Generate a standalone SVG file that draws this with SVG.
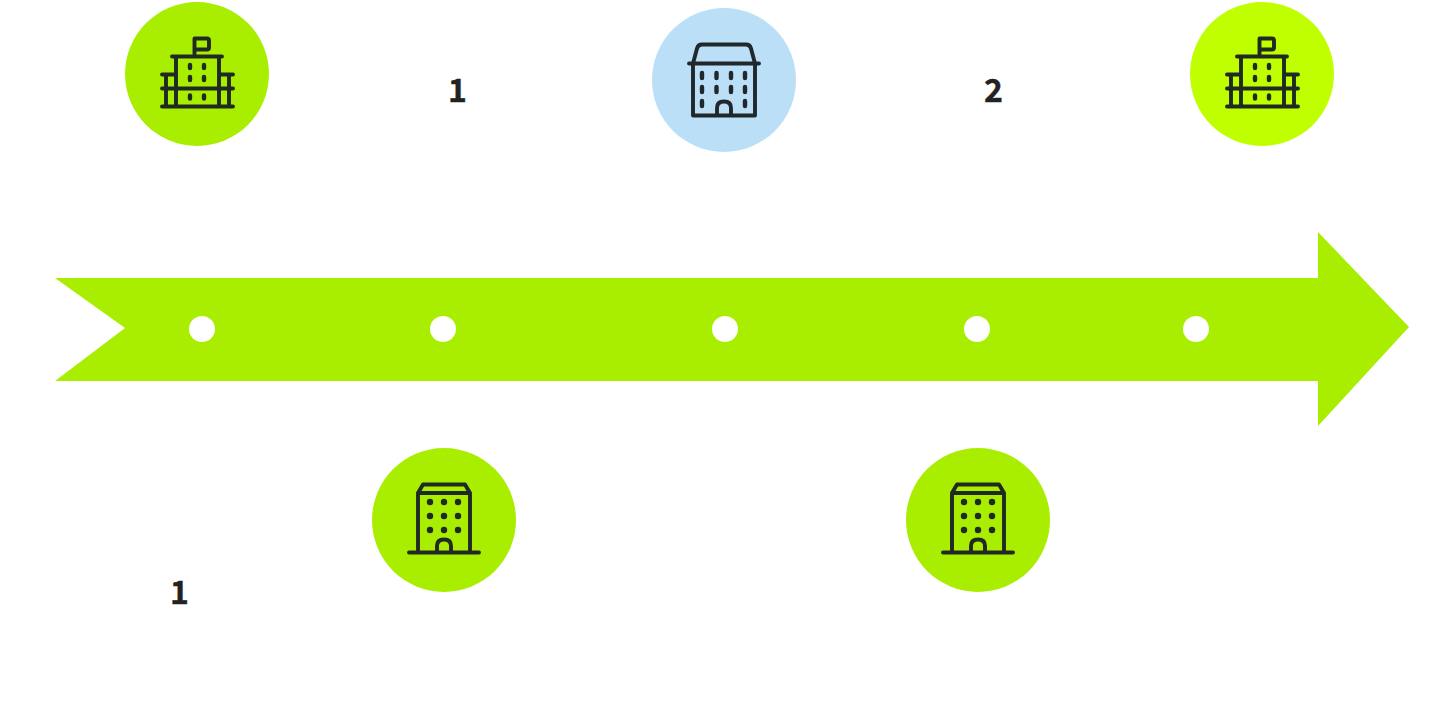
<svg xmlns="http://www.w3.org/2000/svg" width="1434" height="703" viewBox="0 0 1434 703">
<style>
.ic{fill:none;stroke:#1f2a22;stroke-width:3.9;stroke-linecap:round;stroke-linejoin:round}
.win{fill:none;stroke:#1f2a22;stroke-width:4.4;stroke-linecap:round}
.dot{fill:#1f2a22}
.dark{stroke:#20282c}
.lbl{font-family:"Noto Sans CJK SC","Noto Sans",sans-serif;font-weight:700;font-size:32px;fill:#222;stroke:#222;stroke-width:.4;text-anchor:middle}
.tick{fill:#fff}
</style>
<defs>
<g id="school">
<path class="ic" d="M-2.500-18V-35.500H10Q12-35.500 12-33.500V-26.500Q12-24.500 10-24.500H-2.500M-25-17.500H25M-21-17.500V32.500M22-17.500V32.500M-35 0.500H-21M22 0.500H36M-35 14.500H36M-35 32.500H36M-31 0.500V32.500M32 0.500V32.500"/>
<path class="win" d="M-7-9v3M7-9v3M-7 3v3M7 3v3M-7 21.500v3M7 21.500v3"/>
</g>
<g id="tower">
<path class="ic" d="M-26-27V32.500M26-27V32.500M-26-27H26M-26-27L-21-35.500H21L26-27M-35 32.500H35M-7 32.500V26Q-7 19.500 0 19.500Q7 19.500 7 26V32.500"/>
<g class="dot"><circle cx="-14" cy="-18" r="3.200"/><circle cx="0" cy="-18" r="3.200"/><circle cx="14" cy="-18" r="3.200"/><circle cx="-14" cy="-4" r="3.200"/><circle cx="0" cy="-4" r="3.200"/><circle cx="14" cy="-4" r="3.200"/><circle cx="-14" cy="10" r="3.200"/><circle cx="0" cy="10" r="3.200"/><circle cx="14" cy="10" r="3.200"/></g>
</g>
</defs>
<g id="connectors">
<polygon id="timeline-arrow" fill="#a9ee00" points="55,278 1318,278 1318,232 1409,327 1318,426 1318,381 55,381 125,328"/>
<g id="ticks"><circle class="tick" cx="202" cy="329" r="13"/><circle class="tick" cx="443" cy="329" r="13"/><circle class="tick" cx="725" cy="329" r="13"/><circle class="tick" cx="977" cy="329" r="13"/><circle class="tick" cx="1196" cy="329" r="13"/></g>
</g>
<g id="node-1"><circle cx="197" cy="74" r="72" fill="#a9ee00"/><use href="#school" x="197" y="74"/></g>
<g id="node-2"><circle cx="444" cy="520" r="72" fill="#a9ee00"/><use href="#tower" x="444" y="520"/></g>
<g id="node-3"><circle cx="724" cy="80" r="72" fill="#bbdff7"/>
<path class="ic dark" d="M693 63.500V115.500H755V63.500M689 63.500H759M693 63.500L697 48.500Q698 44.500 702 44.500H746Q750 44.500 751 48.500L755 63.500M717 115.500V108Q717 101.500 724 101.500Q731 101.500 731 108V115.500"/>
<path class="win dark" d="M702 73v5M716.500 73v5M731 73v5M745 73v5M702 87v5M716.500 87v5M731 87v5M745 87v5M702 101v5M745 101v5"/></g>
<g id="node-4"><circle cx="978" cy="520" r="72" fill="#a9ee00"/><use href="#tower" x="978" y="520"/></g>
<g id="node-5"><circle cx="1262" cy="74" r="72" fill="#bfff00"/><use href="#school" x="1262" y="74"/></g>
<text class="lbl" x="457.500" y="102">1</text>
<text class="lbl" x="993.500" y="102">2</text>
<text class="lbl" x="179.500" y="604">1</text>
</svg>
